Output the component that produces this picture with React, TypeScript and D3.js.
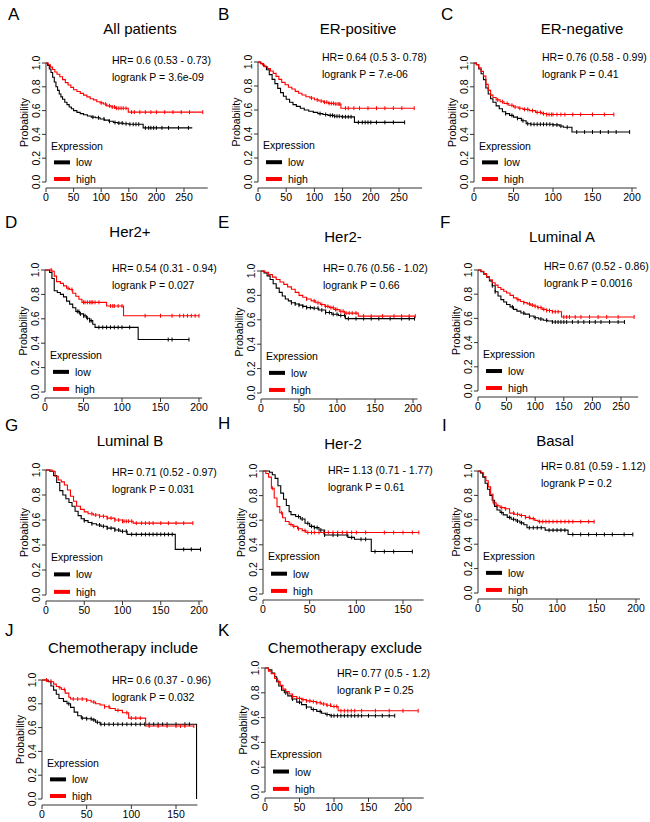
import React from 'react';
import * as d3 from 'd3';

type Pt = [number, number];

// ---------- data: Kaplan-Meier step points [time, survival] ----------
const aLow: Pt[] = [[0,1],[3,0.98],[6,0.95],[9,0.92],[12,0.88],[15,0.84],[18,0.80],[21,0.77],[24,0.74],[27,0.715],[30,0.695],[34,0.67],[38,0.65],[42,0.63],[46,0.615],[50,0.60],[56,0.585],[62,0.575],[68,0.565],[75,0.555],[82,0.545],[90,0.54],[98,0.53],[106,0.52],[114,0.51],[122,0.50],[130,0.495],[140,0.49],[150,0.485],[176,0.455],[265,0.455]];
const aHigh: Pt[] = [[0,1],[4,0.985],[8,0.965],[12,0.945],[16,0.925],[20,0.905],[25,0.885],[30,0.86],[35,0.835],[40,0.815],[45,0.795],[50,0.775],[56,0.76],[62,0.745],[68,0.73],[74,0.715],[80,0.70],[86,0.69],[92,0.675],[98,0.665],[104,0.655],[110,0.64],[118,0.63],[126,0.62],[149,0.587],[284,0.587]];
const aLowCens = [85,95,105,115,125,132,138,145,152,158,163,168,180,186,190,195,200,210,222,240,258];
const aHighCens = [100,108,115,120,124,128,132,136,140,145,155,160,170,180,190,200,215,230,245,260,284];

const bLow: Pt[] = [[0,1],[5,0.985],[10,0.965],[15,0.935],[20,0.895],[25,0.855],[30,0.82],[35,0.78],[40,0.745],[45,0.715],[50,0.69],[56,0.665],[62,0.645],[68,0.63],[75,0.615],[82,0.60],[90,0.59],[98,0.58],[106,0.57],[115,0.562],[124,0.555],[135,0.548],[148,0.543],[171,0.497],[260,0.497]];
const bHigh: Pt[] = [[0,1],[4,0.99],[8,0.975],[12,0.96],[17,0.945],[22,0.925],[27,0.905],[32,0.88],[37,0.855],[42,0.83],[48,0.81],[54,0.79],[60,0.775],[66,0.755],[72,0.74],[78,0.725],[85,0.71],[92,0.70],[100,0.685],[108,0.675],[116,0.665],[125,0.655],[135,0.65],[147,0.615],[277,0.615]];
const bLowCens = [110,120,128,132,136,140,144,150,155,160,165,178,185,190,195,200,210,225,240,260];
const bHighCens = [95,105,112,118,122,126,130,134,138,142,145,155,160,170,180,195,210,225,240,255,277];

const cLow: Pt[] = [[0,1],[3,0.985],[6,0.95],[9,0.91],[12,0.86],[15,0.79],[18,0.74],[21,0.70],[24,0.67],[28,0.64],[32,0.615],[36,0.59],[40,0.575],[45,0.56],[50,0.545],[55,0.535],[60,0.515],[66,0.49],[72,0.485],[100,0.48],[108,0.47],[113,0.46],[124,0.42],[197,0.42]];
const cHigh: Pt[] = [[0,1],[3,0.985],[6,0.96],[9,0.93],[12,0.89],[15,0.82],[18,0.77],[21,0.73],[24,0.71],[28,0.69],[33,0.675],[38,0.66],[44,0.645],[50,0.63],[56,0.62],[62,0.61],[70,0.60],[78,0.585],[86,0.575],[92,0.567],[177,0.567]];
const cLowCens = [40,48,55,62,68,72,76,80,84,88,92,96,100,105,110,118,130,140,150,160,170,180,197];
const cHighCens = [30,36,42,48,52,58,64,68,74,80,84,88,92,95,98,100,105,110,115,125,135,150,165,177];

const dLow: Pt[] = [[0,1],[6,0.98],[9,0.93],[12,0.83],[16,0.815],[20,0.80],[24,0.78],[28,0.745],[32,0.72],[36,0.69],[40,0.66],[45,0.64],[50,0.625],[54,0.605],[58,0.585],[62,0.555],[65,0.53],[121,0.43],[187,0.43]];
const dHigh: Pt[] = [[0,1],[9,0.99],[12,0.95],[15,0.905],[20,0.89],[24,0.87],[28,0.85],[32,0.84],[36,0.81],[40,0.785],[44,0.76],[48,0.735],[80,0.705],[102,0.625],[200,0.625]];
const dLowCens = [42,44,46,50,52,55,58,60,70,75,80,85,90,95,100,110,160,165,187];
const dHighCens = [8,30,35,50,52,55,58,60,62,65,70,85,88,90,95,100,130,150,165,175,180,185,190,195,200];

const eLow: Pt[] = [[0,1],[4,0.985],[8,0.96],[12,0.93],[16,0.895],[20,0.86],[24,0.825],[28,0.795],[32,0.77],[36,0.755],[40,0.74],[45,0.73],[50,0.72],[55,0.71],[60,0.70],[68,0.695],[76,0.68],[85,0.66],[93,0.645],[102,0.635],[111,0.61],[202,0.61]];
const eHigh: Pt[] = [[0,1],[5,0.99],[10,0.97],[15,0.95],[20,0.93],[25,0.91],[30,0.89],[35,0.87],[40,0.85],[45,0.825],[50,0.80],[55,0.785],[60,0.77],[66,0.755],[72,0.74],[78,0.725],[84,0.71],[90,0.70],[96,0.685],[103,0.67],[110,0.655],[128,0.63],[203,0.63]];
const eLowCens = [40,45,50,55,60,65,70,75,80,85,90,95,100,105,110,115,125,135,145,155,170,185,195,202];
const eHighCens = [60,70,75,80,85,88,92,95,98,100,105,108,112,116,120,125,135,145,160,175,185,195,203];

const fLow: Pt[] = [[0,1],[5,0.985],[10,0.965],[15,0.94],[20,0.91],[25,0.87],[30,0.82],[35,0.785],[40,0.755],[45,0.735],[50,0.715],[56,0.695],[62,0.675],[68,0.66],[75,0.645],[82,0.635],[90,0.62],[98,0.605],[106,0.595],[114,0.585],[122,0.578],[130,0.57],[256,0.57]];
const fHigh: Pt[] = [[0,1],[5,0.99],[10,0.97],[15,0.945],[20,0.92],[25,0.895],[30,0.875],[35,0.855],[40,0.84],[45,0.825],[50,0.81],[56,0.79],[62,0.77],[68,0.755],[74,0.74],[80,0.73],[86,0.72],[92,0.71],[98,0.70],[104,0.69],[112,0.675],[120,0.665],[130,0.655],[146,0.612],[273,0.612]];
const fLowCens = [25,30,60,80,90,100,110,120,130,135,140,145,150,155,165,175,185,195,205,215,230,245,256];
const fHighCens = [70,80,90,95,100,105,110,115,120,125,130,135,140,150,155,160,170,180,195,210,225,245,273];

const gLow: Pt[] = [[0,1],[5,0.99],[10,0.955],[14,0.90],[18,0.835],[22,0.80],[26,0.77],[30,0.74],[34,0.71],[38,0.67],[42,0.635],[46,0.61],[50,0.595],[55,0.58],[60,0.57],[66,0.56],[72,0.55],[80,0.535],[90,0.52],[97,0.51],[106,0.485],[169,0.365],[202,0.365]];
const gHigh: Pt[] = [[0,1],[8,0.99],[12,0.95],[16,0.92],[20,0.905],[24,0.88],[28,0.84],[32,0.79],[36,0.75],[40,0.71],[45,0.685],[50,0.665],[55,0.65],[62,0.64],[70,0.63],[80,0.615],[90,0.60],[100,0.59],[114,0.575],[192,0.575]];
const gLowCens = [50,60,70,75,80,85,90,95,100,105,112,118,125,130,135,140,145,150,155,160,165,180,190,202];
const gHighCens = [60,65,70,75,80,85,90,95,100,102,105,108,112,118,125,130,135,140,150,160,170,180,192];

const hLow: Pt[] = [[0,1],[7,0.99],[10,0.97],[13,0.94],[16,0.88],[19,0.82],[22,0.77],[25,0.72],[28,0.67],[30,0.645],[35,0.63],[40,0.61],[45,0.575],[50,0.55],[55,0.54],[60,0.52],[66,0.48],[91,0.46],[98,0.445],[116,0.345],[160,0.345]];
const hHigh: Pt[] = [[0,1],[3,0.98],[6,0.95],[9,0.86],[12,0.78],[15,0.71],[18,0.66],[21,0.62],[24,0.59],[28,0.565],[32,0.55],[37,0.53],[42,0.515],[46,0.50],[167,0.50]];
const hLowCens = [38,42,48,52,55,58,62,66,75,80,90,95,105,110,120,130,140,160];
const hHighCens = [10,20,30,33,38,45,48,52,55,60,65,70,75,80,85,90,95,100,110,130,140,150,160,167];

const iLow: Pt[] = [[0,1],[3,0.985],[6,0.95],[9,0.90],[12,0.85],[15,0.80],[18,0.76],[21,0.71],[24,0.68],[28,0.66],[32,0.64],[37,0.62],[42,0.605],[48,0.59],[53,0.575],[58,0.56],[62,0.535],[85,0.515],[114,0.48],[196,0.48]];
const iHigh: Pt[] = [[0,1],[4,0.985],[7,0.955],[10,0.92],[13,0.87],[16,0.81],[19,0.74],[23,0.715],[28,0.70],[34,0.69],[40,0.655],[46,0.645],[53,0.635],[60,0.62],[66,0.61],[72,0.595],[76,0.585],[147,0.585]];
const iLowCens = [30,40,45,50,55,65,70,75,80,90,95,100,105,110,120,130,140,150,160,170,185,196];
const iHighCens = [20,25,30,35,45,50,55,60,65,70,78,82,86,90,95,100,105,110,115,120,130,140,147];

const jLow: Pt[] = [[0,1],[7,0.985],[10,0.95],[13,0.915],[16,0.88],[19,0.845],[24,0.82],[28,0.80],[32,0.77],[36,0.73],[40,0.70],[44,0.68],[50,0.675],[56,0.665],[60,0.645],[65,0.628],[173,0.628],[173,0]];
const jHigh: Pt[] = [[0,1],[6,0.99],[11,0.985],[13,0.965],[16,0.945],[19,0.935],[22,0.92],[26,0.89],[30,0.855],[32,0.84],[50,0.83],[55,0.815],[60,0.80],[65,0.79],[70,0.775],[76,0.76],[82,0.745],[90,0.725],[97,0.68],[116,0.613],[170,0.613]];
const jLowCens = [30,45,50,55,58,62,66,70,75,80,85,90,95,100,105,110,115,120,125,130,135,140,150,160,165];
const jHighCens = [5,10,20,25,35,40,45,50,58,70,75,85,95,100,105,110,120,130,140,150,155,160,170];

const kLow: Pt[] = [[0,1],[5,0.985],[10,0.96],[14,0.93],[17,0.89],[20,0.855],[24,0.82],[28,0.80],[33,0.775],[39,0.75],[46,0.725],[53,0.705],[60,0.685],[67,0.665],[75,0.65],[82,0.635],[88,0.625],[94,0.615],[188,0.615]];
const kHigh: Pt[] = [[0,1],[5,0.975],[9,0.955],[14,0.915],[18,0.89],[22,0.86],[26,0.83],[30,0.81],[35,0.79],[40,0.77],[46,0.755],[53,0.745],[60,0.735],[67,0.73],[74,0.72],[82,0.71],[89,0.70],[96,0.69],[106,0.655],[222,0.655]];
const kLowCens = [30,40,50,60,70,80,90,96,100,105,110,115,120,125,130,135,140,150,160,170,180,188];
const kHighCens = [20,30,40,50,55,60,65,70,75,80,85,90,95,100,104,110,115,120,125,130,140,160,180,200,222];

const ticks250 = [0, 50, 100, 150, 200, 250];
const ticks200 = [0, 50, 100, 150, 200];
const ticks150 = [0, 50, 100, 150];
const yTicks = [0, 0.2, 0.4, 0.6, 0.8, 1.0];

const titles = ['All patients','ER-positive','ER-negative','Her2+','Her2-','Luminal A','Luminal B','Her-2','Basal','Chemotherapy include','Chemotherapy exclude'];
const hrTexts = ['HR= 0.6 (0.53 - 0.73)','HR= 0.64 (0.5 3- 0.78)','HR= 0.76 (0.58 - 0.99)','HR= 0.54 (0.31 - 0.94)','HR= 0.76 (0.56 - 1.02)','HR= 0.67 (0.52 - 0.86)','HR= 0.71 (0.52 - 0.97)','HR= 1.13 (0.71 - 1.77)','HR= 0.81 (0.59 - 1.12)','HR= 0.6 (0.37 - 0.96)','HR= 0.77 (0.5 - 1.2)'];
const pTexts = ['logrank P = 3.6e-09','logrank P = 7.e-06','logrank P = 0.41','logrank P = 0.027','logrank P = 0.66','logrank P = 0.0016','logrank P = 0.031','logrank P = 0.61','logrank P = 0.2','logrank P = 0.032','logrank P = 0.25'];
const letters = ['A','B','C','D','E','F','G','H','I','J','K'];

// ---------- layout ----------
const layout = [
  { x0: 46, refV: 250, refPx: 184, axisEnd: 293, y1: 63, y0: 182, ticks: ticks250, tx: 140, ty: 28, lx: 8, ly: 14, hx: 112, hy: 60 },
  { x0: 258, refV: 250, refPx: 399, axisEnd: 291, y1: 62, y0: 182, ticks: ticks250, tx: 358, ty: 28, lx: 218, ly: 14, hx: 322, hy: 57 },
  { x0: 474, refV: 200, refPx: 632, axisEnd: 206, y1: 63, y0: 182, ticks: ticks200, tx: 582, ty: 28, lx: 441, ly: 14, hx: 542, hy: 57 },
  { x0: 45, refV: 200, refPx: 199, axisEnd: 204, y1: 270, y0: 392, ticks: ticks200, tx: 130, ty: 231, lx: 5, ly: 222, hx: 112, hy: 268 },
  { x0: 261, refV: 200, refPx: 413, axisEnd: 206, y1: 271, y0: 393, ticks: ticks200, tx: 343, ty: 236, lx: 218, ly: 222, hx: 323, hy: 268 },
  { x0: 478, refV: 250, refPx: 621, axisEnd: 280, y1: 270, y0: 391, ticks: ticks250, tx: 562, ty: 236, lx: 440, ly: 222, hx: 544, hy: 266 },
  { x0: 46, refV: 200, refPx: 199, axisEnd: 205, y1: 470, y0: 595, ticks: ticks200, tx: 130, ty: 440, lx: 5, ly: 425, hx: 112, hy: 472 },
  { x0: 263, refV: 150, refPx: 403, axisEnd: 172, y1: 471, y0: 594, ticks: ticks150, tx: 343, ty: 443, lx: 218, ly: 423, hx: 328, hy: 470 },
  { x0: 478, refV: 200, refPx: 636, axisEnd: 205, y1: 471, y0: 593, ticks: ticks200, tx: 555, ty: 440, lx: 442, ly: 425, hx: 541, hy: 466 },
  { x0: 42, refV: 150, refPx: 176, axisEnd: 174, y1: 680, y0: 799, ticks: ticks150, tx: 123, ty: 647, lx: 5, ly: 630, hx: 112, hy: 680 },
  { x0: 265, refV: 200, refPx: 403, axisEnd: 230, y1: 668, y0: 792, ticks: ticks200, tx: 345, ty: 647, lx: 218, ly: 630, hx: 337, hy: 673 },
];

const series = [
  [aLow, aHigh, aLowCens, aHighCens],
  [bLow, bHigh, bLowCens, bHighCens],
  [cLow, cHigh, cLowCens, cHighCens],
  [dLow, dHigh, dLowCens, dHighCens],
  [eLow, eHigh, eLowCens, eHighCens],
  [fLow, fHigh, fLowCens, fHighCens],
  [gLow, gHigh, gLowCens, gHighCens],
  [hLow, hHigh, hLowCens, hHighCens],
  [iLow, iHigh, iLowCens, iHighCens],
  [jLow, jHigh, jLowCens, jHighCens],
  [kLow, kHigh, kLowCens, kHighCens],
] as [Pt[], Pt[], number[], number[]][];

const RED = '#ff0000';
const BLACK = '#000000';
const AXIS = '#333333';

function sAt(pts: Pt[], t: number): number {
  let s = 1;
  for (const [pt, ps] of pts) {
    if (pt <= t) s = ps; else break;
  }
  return s;
}

function Panel({ i }: { i: number }) {
  const L = layout[i];
  const [low, high, lowC, highC] = series[i];
  const x = d3.scaleLinear().domain([0, L.refV]).range([L.x0, L.refPx]);
  const y = d3.scaleLinear().domain([0, 1]).range([L.y0, L.y1]);
  const line = d3.line<Pt>().x(d => x(d[0])).y(d => y(d[1])).curve(d3.curveStepAfter);
  const axY = L.y0 + 6;
  const fs = 10;
  const fs2 = 10.5;
  const curve = (pts: Pt[], cens: number[], color: string) => (
    <g>
      <path d={line(pts) || ''} fill="none" stroke={color} strokeWidth={1.1} />
      {cens.map((c, k) => {
        const cy = y(sAt(pts, c));
        return <line key={k} x1={x(c)} x2={x(c)} y1={cy - 2} y2={cy + 2} stroke={color} strokeWidth={1} />;
      })}
    </g>
  );
  return (
    <g>
      <text x={L.lx} y={L.ly} fontSize={17} dominantBaseline="central">{letters[i]}</text>
      <text x={L.tx} y={L.ty} fontSize={15} textAnchor="middle" dominantBaseline="central">{titles[i]}</text>
      {/* y axis */}
      <line x1={L.x0} x2={L.x0} y1={y(0)} y2={y(1)} stroke={AXIS} strokeWidth={1} />
      {yTicks.map(v => (
        <g key={v}>
          <line x1={L.x0 - 4} x2={L.x0} y1={y(v)} y2={y(v)} stroke={AXIS} strokeWidth={1} />
          <text transform={`translate(${L.x0 - 10},${y(v)}) rotate(-90)`} fontSize={fs2} textAnchor="middle" dominantBaseline="central">{v.toFixed(1)}</text>
        </g>
      ))}
      <text transform={`translate(${L.x0 - 22},${y(0.5)}) rotate(-90)`} fontSize={fs2} textAnchor="middle" dominantBaseline="central">Probability</text>
      {/* x axis */}
      <line x1={x(0)} x2={x(L.axisEnd)} y1={axY} y2={axY} stroke={AXIS} strokeWidth={1} />
      {L.ticks.map(v => (
        <g key={v}>
          <line x1={x(v)} x2={x(v)} y1={axY} y2={axY + 4} stroke={AXIS} strokeWidth={1} />
          <text x={x(v)} y={axY + 9} fontSize={fs2} textAnchor="middle" dominantBaseline="central">{v}</text>
        </g>
      ))}
      {/* curves */}
      {curve(low, lowC, BLACK)}
      {curve(high, highC, RED)}
      {/* stats */}
      <text x={L.hx} y={L.hy} fontSize={fs2} dominantBaseline="central">{hrTexts[i]}</text>
      <text x={L.hx} y={L.hy + 17} fontSize={fs2} dominantBaseline="central">{pTexts[i]}</text>
      {/* legend */}
      <text x={L.x0 + 5} y={y(0.305)} fontSize={fs2} dominantBaseline="central">Expression</text>
      <line x1={L.x0 + 8} x2={L.x0 + 24} y1={y(0.165)} y2={y(0.165)} stroke={BLACK} strokeWidth={4} />
      <text x={L.x0 + 30} y={y(0.165)} fontSize={fs2} dominantBaseline="central">low</text>
      <line x1={L.x0 + 8} x2={L.x0 + 24} y1={y(0.025)} y2={y(0.025)} stroke={RED} strokeWidth={4} />
      <text x={L.x0 + 30} y={y(0.025)} fontSize={fs2} dominantBaseline="central">high</text>
      {fs > 0 ? null : null}
    </g>
  );
}

export default function App() {
  return (
    <svg width={650} height={822} style={{ position: 'absolute', left: 0, top: 0, background: '#fff' }}
      fontFamily="'Liberation Sans', Arial, sans-serif">
      <rect x={0} y={0} width={650} height={822} fill="#fff" />
      {layout.map((_, i) => <Panel key={i} i={i} />)}
    </svg>
  );
}
